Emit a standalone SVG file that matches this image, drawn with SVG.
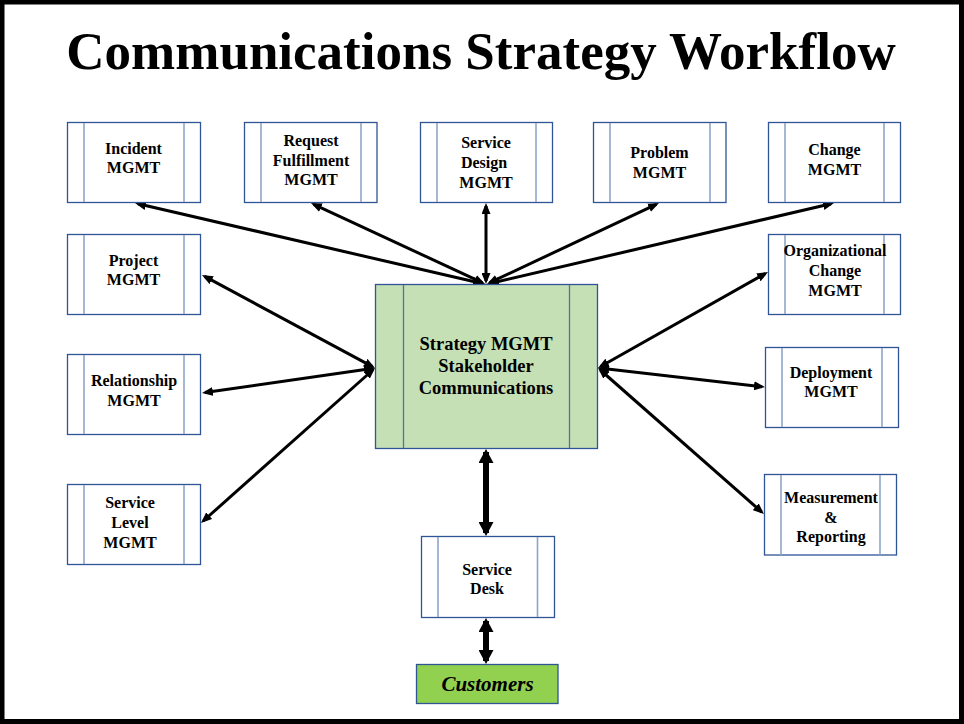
<svg xmlns="http://www.w3.org/2000/svg" width="964" height="724" viewBox="0 0 964 724">
<defs>
<style>
.box{fill:#ffffff;stroke:#2f5597;stroke-width:1.3}
.inner{stroke:#8fa5c8;stroke-width:1.6}
.cbox{fill:#c5e0b4;stroke:#2f5597;stroke-width:1.3}
.cinner{stroke:#4f73a8;stroke-width:1.3}
.t{font-family:"Liberation Serif","Times New Roman",serif;font-weight:bold;font-size:16px;fill:#000;text-anchor:middle}
.ct{font-size:18.5px}
.conn{stroke:#000;stroke-width:3;fill:none;marker-start:url(#ah);marker-end:url(#ah)}
.thick{stroke:#000;stroke-width:6;fill:none;marker-start:url(#ahb);marker-end:url(#ahb)}
</style>
<marker id="ah" markerUnits="userSpaceOnUse" markerWidth="11" markerHeight="9" refX="8" refY="4.5" orient="auto-start-reverse" viewBox="0 0 11 9">
<path d="M0,0 L11,4.5 L0,9 z" fill="#000"/>
</marker>
<marker id="ahb" markerUnits="userSpaceOnUse" markerWidth="14" markerHeight="15" refX="11" refY="7.5" orient="auto-start-reverse" viewBox="0 0 14 15">
<path d="M0,0 L14,7.5 L0,15 z" fill="#000"/>
</marker>
</defs>
<rect x="0" y="0" width="964" height="724" fill="#ffffff"/>
<rect x="2" y="2" width="959.5" height="719.5" fill="none" stroke="#000" stroke-width="5"/>
<text x="481" y="69" font-family="'Liberation Serif','Times New Roman',serif" font-weight="bold" font-size="53" text-anchor="middle" fill="#000">Communications Strategy Workflow</text>

<g id="connectors">
<line class="conn" x1="481.1" y1="283.3" x2="137.9" y2="203.7"/>
<line class="conn" x1="482.3" y1="282.7" x2="313.7" y2="204.3"/>
<line class="conn" x1="486" y1="281" x2="486" y2="206"/>
<line class="conn" x1="489.7" y1="282.7" x2="656.3" y2="204.3"/>
<line class="conn" x1="490.9" y1="283.3" x2="831.1" y2="203.7"/>
<line class="conn" x1="372.4" y1="366.6" x2="204.6" y2="276.4"/>
<line class="conn" x1="372" y1="368.4" x2="205" y2="392.6"/>
<line class="conn" x1="372.8" y1="370" x2="203.2" y2="521"/>
<line class="conn" x1="600.6" y1="366.5" x2="765.4" y2="273.5"/>
<line class="conn" x1="601" y1="368.3" x2="762" y2="386.7"/>
<line class="conn" x1="600.3" y1="370" x2="761.7" y2="512"/>
<line class="thick" x1="486" y1="452" x2="486" y2="533"/>
<line class="thick" x1="486" y1="621" x2="486" y2="661"/>
</g>

<g id="incident">
<rect class="box" x="67.5" y="122.5" width="133" height="80"/>
<line class="inner" x1="84" y1="123" x2="84" y2="202"/>
<line class="inner" x1="184" y1="123" x2="184" y2="202"/>
<text class="t" x="133.5" y="154">Incident</text>
<text class="t" x="133.5" y="173">MGMT</text>
</g>
<g id="request">
<rect class="box" x="244.5" y="122.5" width="132.5" height="80"/>
<line class="inner" x1="261" y1="123" x2="261" y2="202"/>
<line class="inner" x1="361" y1="123" x2="361" y2="202"/>
<text class="t" x="311" y="146">Request</text>
<text class="t" x="311" y="166">Fulfillment</text>
<text class="t" x="311" y="185">MGMT</text>
</g>
<g id="service-design">
<rect class="box" x="420.5" y="122.5" width="132" height="80"/>
<line class="inner" x1="437" y1="123" x2="437" y2="202"/>
<line class="inner" x1="536" y1="123" x2="536" y2="202"/>
<text class="t" x="486" y="148">Service</text>
<text class="t" x="484" y="168">Design</text>
<text class="t" x="486" y="188">MGMT</text>
</g>
<g id="problem">
<rect class="box" x="593.5" y="122.5" width="132.5" height="80"/>
<line class="inner" x1="610" y1="123" x2="610" y2="202"/>
<line class="inner" x1="710" y1="123" x2="710" y2="202"/>
<text class="t" x="659.5" y="158">Problem</text>
<text class="t" x="659.5" y="178">MGMT</text>
</g>
<g id="change">
<rect class="box" x="768.5" y="122.5" width="132" height="80"/>
<line class="inner" x1="785" y1="123" x2="785" y2="202"/>
<line class="inner" x1="884" y1="123" x2="884" y2="202"/>
<text class="t" x="834.5" y="155">Change</text>
<text class="t" x="834.5" y="175">MGMT</text>
</g>

<g id="project">
<rect class="box" x="67.5" y="234.5" width="133" height="80"/>
<line class="inner" x1="84" y1="235" x2="84" y2="314"/>
<line class="inner" x1="184" y1="235" x2="184" y2="314"/>
<text class="t" x="133.5" y="266">Project</text>
<text class="t" x="133.5" y="285">MGMT</text>
</g>
<g id="relationship">
<rect class="box" x="67.5" y="354.5" width="133" height="80"/>
<line class="inner" x1="84" y1="355" x2="84" y2="434"/>
<line class="inner" x1="184" y1="355" x2="184" y2="434"/>
<text class="t" x="134" y="386">Relationship</text>
<text class="t" x="134" y="406">MGMT</text>
</g>
<g id="service-level">
<rect class="box" x="67.5" y="484.5" width="133" height="80"/>
<line class="inner" x1="84" y1="485" x2="84" y2="564"/>
<line class="inner" x1="184" y1="485" x2="184" y2="564"/>
<text class="t" x="130" y="508">Service</text>
<text class="t" x="130" y="528">Level</text>
<text class="t" x="130" y="548">MGMT</text>
</g>

<g id="strategy">
<rect class="cbox" x="375.5" y="284.5" width="222" height="164"/>
<line class="cinner" x1="403.5" y1="285" x2="403.5" y2="448"/>
<line class="cinner" x1="569.5" y1="285" x2="569.5" y2="448"/>
<text class="t ct" x="486" y="350">Strategy MGMT</text>
<text class="t ct" x="486" y="372">Stakeholder</text>
<text class="t ct" x="486" y="394">Communications</text>
</g>

<g id="org-change">
<rect class="box" x="768.5" y="234.5" width="132" height="80"/>
<line class="inner" x1="785" y1="235" x2="785" y2="314"/>
<line class="inner" x1="884" y1="235" x2="884" y2="314"/>
<text class="t" x="835" y="256">Organizational</text>
<text class="t" x="835" y="276">Change</text>
<text class="t" x="835" y="296">MGMT</text>
</g>
<g id="deployment">
<rect class="box" x="765.5" y="347.5" width="133" height="80"/>
<line class="inner" x1="782" y1="348" x2="782" y2="427"/>
<line class="inner" x1="882" y1="348" x2="882" y2="427"/>
<text class="t" x="831" y="378">Deployment</text>
<text class="t" x="831" y="397">MGMT</text>
</g>
<g id="measurement">
<rect class="box" x="764.5" y="474.5" width="132" height="80.5"/>
<line class="inner" x1="781" y1="475" x2="781" y2="555"/>
<line class="inner" x1="880" y1="475" x2="880" y2="555"/>
<text class="t" x="831" y="503">Measurement</text>
<text class="t" x="831" y="523">&amp;</text>
<text class="t" x="831" y="542">Reporting</text>
</g>

<g id="service-desk">
<rect class="box" x="421.5" y="536.5" width="133" height="81"/>
<line class="inner" x1="438" y1="537" x2="438" y2="617"/>
<line class="inner" x1="537.5" y1="537" x2="537.5" y2="617"/>
<text class="t" x="487" y="575">Service</text>
<text class="t" x="487" y="594">Desk</text>
</g>
<g id="customers">
<rect x="416.5" y="664.5" width="141.5" height="39" fill="#92d050" stroke="#2f5597" stroke-width="1.3"/>
<text class="t" x="487.5" y="691" font-style="italic" style="font-size:21px">Customers</text>
</g>
</svg>
